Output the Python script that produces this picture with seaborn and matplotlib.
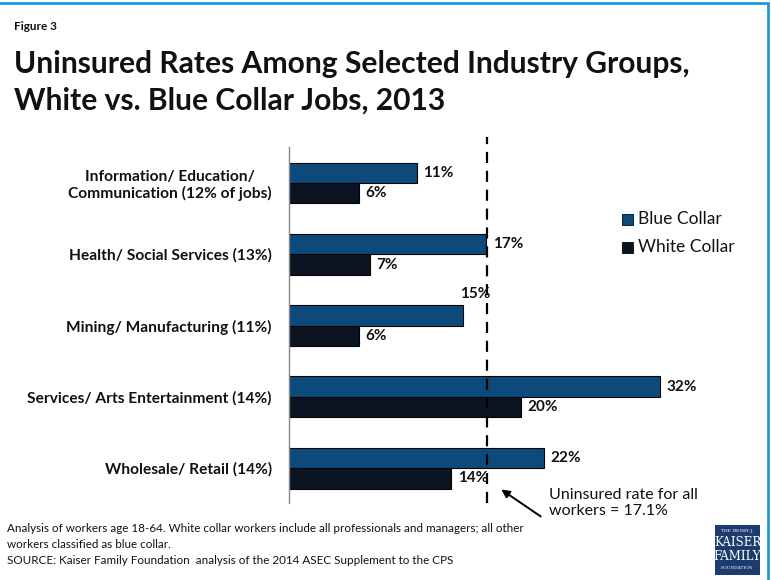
import matplotlib
matplotlib.use("Agg")
import matplotlib.pyplot as plt
import seaborn as sns
import pandas as pd

# Industry groups (share of jobs) and uninsured rates, 2013
industries = [
    "Information/ Education/\nCommunication (12% of jobs)",
    "Health/ Social Services (13%)",
    "Mining/ Manufacturing (11%)",
    "Services/ Arts Entertainment (14%)",
    "Wholesale/ Retail (14%)",
]
blue_collar = [11, 17, 15, 32, 22]
white_collar = [6, 7, 6, 20, 14]
series_names = ["Blue Collar", "White Collar"]
all_workers_rate = 17.1

df = pd.DataFrame({
    "industry": industries * 2,
    "rate": blue_collar + white_collar,
    "collar": [series_names[0]] * len(industries) + [series_names[1]] * len(industries),
})

sns.set_theme(style="white")
plt.rcParams["font.family"] = ["Lato", "DejaVu Sans"]

BLUE = "#0d4a7c"
DARK = "#0b1420"

fig = plt.figure(figsize=(7.71, 5.80), dpi=100)
ax = fig.add_axes([289 / 771, 1 - 503 / 580, 406 / 771, 356 / 580])

sns.barplot(data=df, y="industry", x="rate", hue="collar", order=industries,
            hue_order=series_names, palette=[BLUE, DARK], saturation=1,
            width=0.575, orient="h", edgecolor="#050505", linewidth=0.8,
            ax=ax, legend=False)

ax.set_xlim(0, 35)
ax.set_ylim(4.49, -0.505)
ax.set_xlabel("")
ax.set_ylabel("")
ax.set_xticks([])
for side in ["top", "right", "bottom"]:
    ax.spines[side].set_visible(False)
ax.spines["left"].set_color("#888888")
ax.spines["left"].set_linewidth(1.0)
ax.tick_params(axis="y", length=0, pad=12.5)
for lbl in ax.get_yticklabels():
    lbl.set_fontweight("bold")
    lbl.set_fontsize(11.2)
    lbl.set_multialignment("center")
    lbl.set_color("#111111")

# value labels
half = 0.575 / 4
for i, (b, w) in enumerate(zip(blue_collar, white_collar)):
    if i == 2:
        ax.text(b - 0.25, i - 0.44, f"{b}%", ha="left", va="center",
                fontsize=11, fontweight="bold", color="#111111")
    else:
        ax.text(b + 0.55, i - half, f"{b}%", ha="left", va="center",
                fontsize=11, fontweight="bold", color="#111111")
    ax.text(w + 0.55, i + half, f"{w}%", ha="left", va="center",
            fontsize=11, fontweight="bold", color="#111111")

# overall uninsured rate reference line
ax.axvline(all_workers_rate, ymin=0.0, ymax=1.028, color="black", lw=1.6,
           dashes=(5, 3.5), clip_on=False)

# legend
for k, (name, col) in enumerate(zip(series_names, [BLUE, DARK])):
    y = 219 + 28 * k
    fig.patches.append(plt.Rectangle((622 / 771, 1 - (y + 6) / 580), 11 / 771, 11 / 580,
                                     transform=fig.transFigure, facecolor=col,
                                     edgecolor="#050505", lw=0.6))
    fig.text(638 / 771, 1 - y / 580, name, ha="left", va="center", fontsize=12.5,
             color="#111111")

# annotation with arrow
fig.text(549 / 771, 1 - 503 / 580, "Uninsured rate for all\nworkers = 17.1%",
         ha="left", va="center", fontsize=11.5, color="#111111", linespacing=1.25)
ax.annotate("", xy=(499 / 771, 1 - 488 / 580), xytext=(543 / 771, 1 - 518 / 580),
            xycoords="figure fraction", textcoords="figure fraction",
            arrowprops=dict(arrowstyle="-|>", color="black", lw=1.4,
                            mutation_scale=12))

# titles
fig.text(14 / 771, 1 - 27 / 580, "Figure 3", fontsize=8.5, fontweight="bold",
         va="center", ha="left", color="#111111")
fig.text(14 / 771, 1 - 64 / 580, "Uninsured Rates Among Selected Industry Groups,",
         fontsize=21.6, fontweight="bold", va="center", ha="left", color="#111111")
fig.text(14 / 771, 1 - 101 / 580, "White vs. Blue Collar Jobs, 2013",
         fontsize=21.6, fontweight="bold", va="center", ha="left", color="#111111")

# notes
notes = [
    "Analysis of workers age 18-64. White collar workers include all professionals and managers; all other",
    "workers classified as blue collar.",
    "SOURCE: Kaiser Family Foundation  analysis of the 2014 ASEC Supplement to the CPS",
]
for k, line in enumerate(notes):
    fig.text(7 / 771, 1 - (528 + 16.5 * k) / 580, line, fontsize=8.4, va="center",
             ha="left", color="#111111")

# foundation logo
fig.patches.append(plt.Rectangle((715 / 771, 1 - 575 / 580), 45 / 771, 50 / 580,
                                 transform=fig.transFigure, facecolor="#1d3c6e",
                                 edgecolor="none"))
logo_lines = [("THE HENRY J.", 3.2, 531), ("KAISER", 8.5, 542), ("FAMILY", 8.5, 556),
              ("FOUNDATION", 3.2, 568)]
for txt, fs, y in logo_lines:
    fig.text(737.5 / 771, 1 - y / 580, txt, fontsize=fs, family="DejaVu Serif",
             color="white", ha="center", va="center")

# frame lines along top and right edges
fig.add_artist(plt.Line2D([0, 767.5 / 771], [1 - 3 / 580, 1 - 3 / 580],
                          transform=fig.transFigure, color="#1f9ad6", lw=2))
fig.add_artist(plt.Line2D([767.5 / 771, 767.5 / 771], [0, 1 - 3 / 580],
                          transform=fig.transFigure, color="#1f9ad6", lw=2))

fig.savefig("out.png", dpi=100, facecolor="white")
